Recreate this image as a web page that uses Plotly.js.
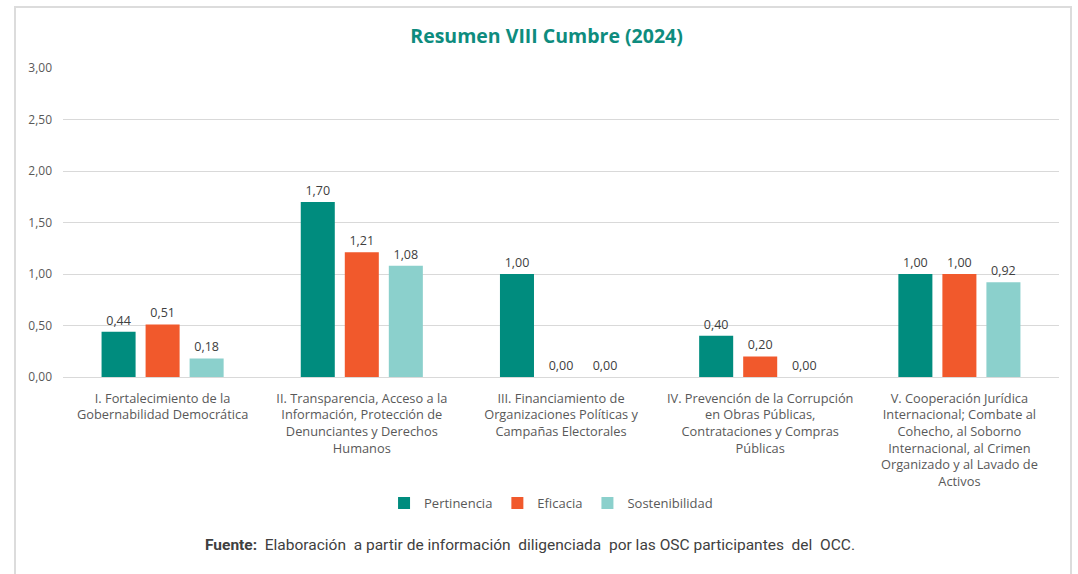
<!DOCTYPE html>
<html>
<head>
<meta charset="utf-8">
<script src="https://cdn.plot.ly/plotly-3.0.1.min.js"></script>
<style>
  html, body { margin: 0; padding: 0; background: white; overflow: hidden; }
  #wrap { position: relative; width: 1078px; height: 574px; }
  #frame { position: absolute; left: 14px; top: 6px; width: 1058px; height: 600px;
           border: 2px solid #dcdcdc; box-sizing: border-box; }
  #chart { position: absolute; left: 0; top: 0; width: 1078px; height: 574px; }
</style>
</head>
<body>
<div id="wrap">
  <div id="frame"></div>
  <div id="chart"></div>
</div>
<script>
// Resumen VIII Cumbre (2024) — grouped bars per thematic axis

const categories = ['I', 'II', 'III', 'IV', 'V'];
const tickLabels = [
  'I. Fortalecimiento de la<br>Gobernabilidad Democrática',
  'II. Transparencia, Acceso a la<br>Información, Protección de<br>Denunciantes y Derechos<br>Humanos',
  'III. Financiamiento de<br>Organizaciones Políticas y<br>Campañas Electorales',
  'IV. Prevención de la Corrupción<br>en Obras Públicas,<br>Contrataciones y Compras<br>Públicas',
  'V. Cooperación Jurídica<br>Internacional; Combate al<br>Cohecho, al Soborno<br>Internacional, al Crimen<br>Organizado y al Lavado de<br>Activos',
];
const pertinencia = [0.44, 1.70, 1.00, 0.40, 1.00];
const eficacia = [0.51, 1.21, 0.00, 0.20, 1.00];
const sostenibilidad = [0.18, 1.08, 0.00, 0.00, 0.92];
const yTicks = [0, 0.5, 1, 1.5, 2, 2.5, 3];

const COLORS = {
  pertinencia: '#008C7E',
  eficacia: '#F1592C',
  sostenibilidad: '#8BD0CC',
  title: '#0E8C7E',
  text: '#595959',
  grid: '#d9d9d9',
};

function barTrace(name, values, color) {
  return {
    type: 'bar',
    name: name,
    x: categories,
    y: values,
    marker: { color: color },
    texttemplate: '%{y:.2f}',
    textposition: 'outside',
    textfont: { family: 'Open Sans, sans-serif', size: 12.5, color: '#404040' },
    cliponaxis: false,
    hoverinfo: 'skip',
  };
}

const data = [
  barTrace('Pertinencia', pertinencia, COLORS.pertinencia),
  barTrace('Eficacia', eficacia, COLORS.eficacia),
  barTrace('Sostenibilidad', sostenibilidad, COLORS.sostenibilidad),
];

const layout = {
  width: 1078,
  height: 574,
  paper_bgcolor: 'rgba(0,0,0,0)',
  plot_bgcolor: 'rgba(0,0,0,0)',
  font: { family: 'Open Sans, sans-serif', color: COLORS.text, size: 12 },
  separators: ',.',
  margin: { t: 68, r: 19, b: 197, l: 63 },
  barmode: 'group',
  bargap: 0.337,
  bargroupgap: 0.227,
  title: {
    text: '<b>Resumen VIII Cumbre (2024)</b>',
    font: { family: 'Open Sans, sans-serif', size: 19.5, color: COLORS.title },
    xref: 'container',
    x: 0.507,
    xanchor: 'center',
    yref: 'container',
    y: 1 - 36 / 574,
    yanchor: 'middle',
  },
  xaxis: {
    type: 'category',
    tickvals: categories,
    ticktext: tickLabels,
    tickfont: { family: 'Open Sans, sans-serif', size: 12.8, color: COLORS.text },
    showgrid: false,
    ticks: '',
    showline: false,
    ticklabelstandoff: 12,
  },
  yaxis: {
    range: [0, 3],
    tickvals: yTicks,
    tickformat: '.2f',
    tickfont: { family: 'Open Sans, sans-serif', size: 12, color: COLORS.text },
    gridcolor: COLORS.grid,
    gridwidth: 1,
    zeroline: true,
    zerolinecolor: COLORS.grid,
    zerolinewidth: 1,
    ticklabelstandoff: 10,
  },
  showlegend: true,
  legend: {
    orientation: 'h',
    x: 0.49,
    xanchor: 'center',
    y: -0.408,
    yanchor: 'middle',
    font: { family: 'Open Sans, sans-serif', size: 13, color: COLORS.text },
    itemwidth: 30,
    traceorder: 'normal',
  },
  annotations: [{
    text: '<b>Fuente:</b>  Elaboración  a partir de información  diligenciada  por las OSC participantes  del  OCC.',
    xref: 'paper',
    yref: 'paper',
    x: (530 - 63) / 996,
    y: (377 - 545) / 309,
    xanchor: 'center',
    yanchor: 'middle',
    showarrow: false,
    font: { family: 'Roboto, sans-serif', size: 15.5, color: '#404040' },
  }],
};

Plotly.newPlot('chart', data, layout, { displayModeBar: false, staticPlot: true });
</script>
</body>
</html>
